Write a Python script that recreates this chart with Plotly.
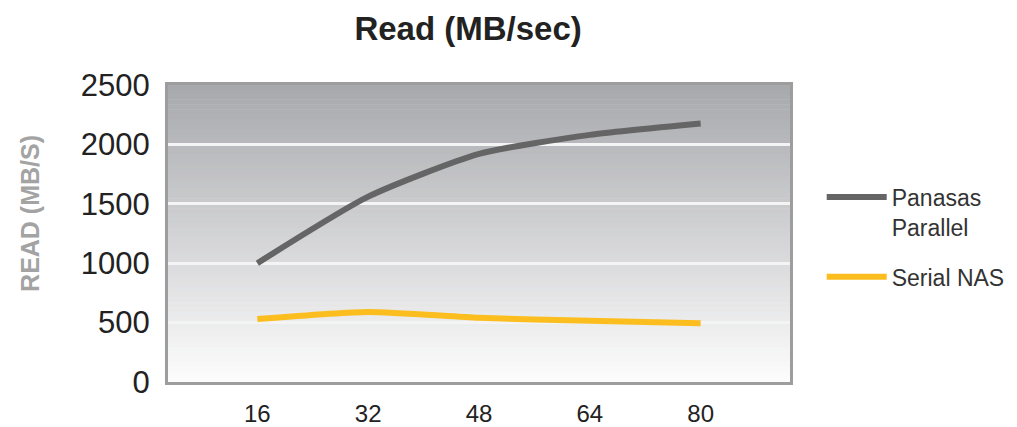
import plotly.graph_objects as go

nodes = [16, 32, 48, 64, 80]
panasas_parallel = [1000, 1560, 1920, 2080, 2175]
serial_nas = [530, 590, 540, 515, 495]
y_ticks = [0, 500, 1000, 1500, 2000, 2500]

fig = go.Figure()
fig.add_trace(go.Scatter(
    x=nodes, y=panasas_parallel, mode="lines", name="Panasas<br>Parallel",
    legendgroup="panasas",
    line=dict(color="#656565", width=6, shape="spline", smoothing=0.6),
))
fig.add_trace(go.Scatter(
    x=nodes, y=serial_nas, mode="lines", name="Serial NAS",
    legendgroup="serial",
    line=dict(color="#fcbd1f", width=6, shape="spline", smoothing=0.6),
))

# vertical gradient background (dark grey top -> near white bottom)
n = 60
top = (168, 169, 173)
bot = (252, 252, 252)
shapes = []
for i in range(n):
    t = i / (n - 1)
    c = tuple(int(round(top[k] + (bot[k] - top[k]) * t)) for k in range(3))
    y1 = 1 - i / n
    y0 = 1 - (i + 1) / n
    shapes.append(dict(
        type="rect", xref="x domain", yref="y domain",
        x0=0, x1=1, y0=y0, y1=y1 + 0.002,
        fillcolor="rgb(%d,%d,%d)" % c, line=dict(width=0), layer="below",
    ))

# page body adds an 8px margin, so the figure is sized/offset to compensate
fig.update_layout(
    width=1009, height=419,
    margin=dict(l=160, r=227, t=77, b=45, autoexpand=False),
    paper_bgcolor="white", plot_bgcolor="white",
    shapes=shapes,
    font=dict(family="Liberation Sans, Arial, sans-serif", color="#222222"),
    title=dict(
        text="<b>Read (MB/sec)</b>", x=0.456, xanchor="center",
        y=0.952, yanchor="middle", font=dict(size=33, color="#222222"),
    ),
    showlegend=True,
    legend=dict(
        x=1.051, xanchor="left", y=0.488, yanchor="middle", valign="top",
        font=dict(size=23, color="#333333"),
        bgcolor="rgba(0,0,0,0)", tracegroupgap=17, itemwidth=60,
    ),
    annotations=[dict(
        text="<b>READ (MB/S)</b>", textangle=-90, showarrow=False,
        xref="paper", yref="paper", x=-0.222, y=0.569,
        xanchor="center", yanchor="middle",
        font=dict(size=25, color="#a3a3a3"),
    )],
    xaxis=dict(
        range=[3.1, 92.9], tickvals=nodes, ticktext=[str(v) for v in nodes],
        showgrid=False, zeroline=False, automargin=False,
        showline=True, mirror=True, linecolor="#9d9d9d", linewidth=3,
        ticks="", tickfont=dict(size=24, color="#222222"),
        ticklabelstandoff=8,
    ),
    yaxis=dict(
        range=[0, 2500], tickvals=y_ticks, automargin=False,
        showgrid=True, gridcolor="#f4f4f4", gridwidth=3, zeroline=False,
        showline=True, mirror=True, linecolor="#9d9d9d", linewidth=3,
        ticks="", tickfont=dict(size=31, color="#222222"),
        ticklabelstandoff=9,
    ),
)

fig.write_html("out.html")
